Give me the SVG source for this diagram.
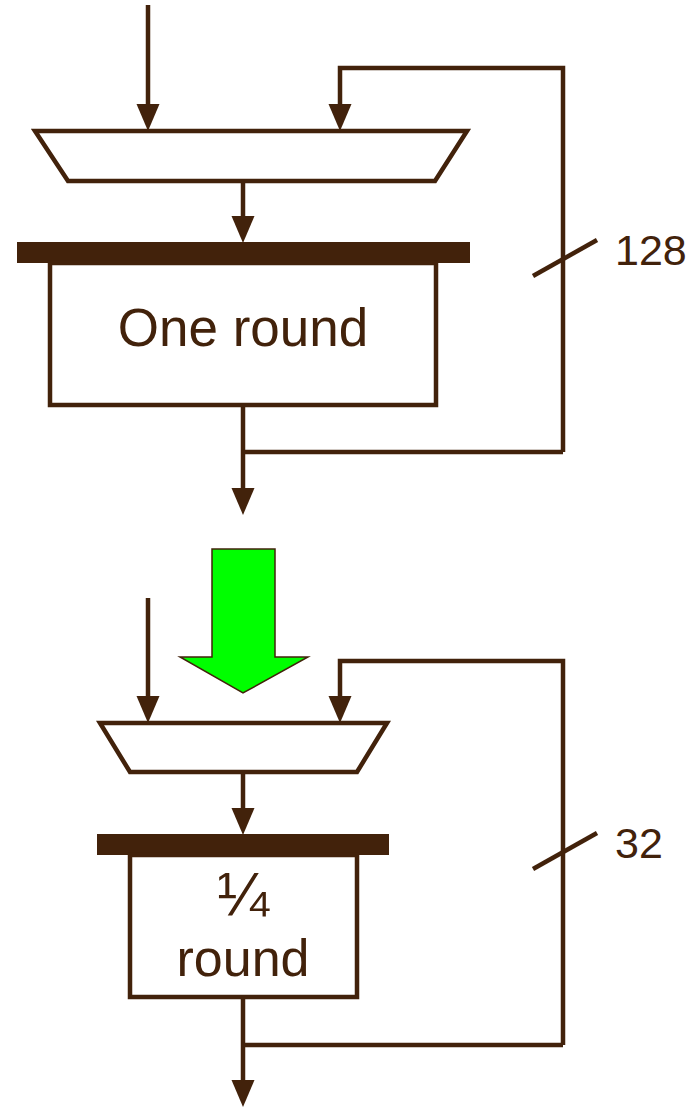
<svg xmlns="http://www.w3.org/2000/svg" width="690" height="1107" viewBox="0 0 690 1107">
<style>
.ln{fill:none;stroke:#42220b;stroke-width:4.5;stroke-linejoin:miter}
.arr{marker-end:url(#ah)}
.box{fill:#fff;stroke:#42220b;stroke-width:4.5}
.bar{fill:#42220b}
.lbl{font-family:"Liberation Sans",Arial,sans-serif;fill:#42220b;text-anchor:middle}
.num{font-family:"Liberation Sans",Arial,sans-serif;fill:#42220b;font-size:43px}
</style>
<defs>
<marker id="ah" viewBox="0 -12 28 24" markerWidth="28" markerHeight="24" refX="7" refY="0" orient="auto" markerUnits="userSpaceOnUse">
<path d="M0,-11.5 L27,0 L0,11.5 Z" fill="#42220b"/>
</marker>
</defs>
<g id="connectors">
<line class="ln arr" x1="148" y1="5" x2="148" y2="111"/>
<polyline class="ln arr" points="563,452 563,68 340,68 340,111"/>
<line class="ln arr" x1="243" y1="181" x2="243" y2="223"/>
<line class="ln arr" x1="243" y1="405" x2="243" y2="495"/>
<line class="ln" x1="243" y1="452" x2="563" y2="452"/>
<line class="ln" x1="533" y1="276" x2="597" y2="240"/>
<line class="ln arr" x1="148" y1="598" x2="148" y2="703"/>
<polyline class="ln arr" points="563,1045 563,661 340,661 340,703"/>
<line class="ln arr" x1="243" y1="772" x2="243" y2="815"/>
<line class="ln arr" x1="243" y1="997" x2="243" y2="1087"/>
<line class="ln" x1="243" y1="1045" x2="563" y2="1045"/>
<line class="ln" x1="533" y1="869" x2="597" y2="833"/>
</g>
<g id="mux1"><polygon class="box" points="35,131 467,131 435,181 68,181"/></g>
<g id="reg1"><rect class="bar" x="17" y="242" width="453" height="21"/></g>
<g id="round1"><rect class="box" x="50" y="263" width="386" height="142"/>
<text class="lbl" x="243" y="346" font-size="53">One round</text></g>
<g id="label128"><text class="num" x="615" y="265">128</text></g>
<g id="bigarrow"><polygon points="212,549 275,549 275,657 308,657 243,693 180,657 212,657" fill="#00ff00" stroke="#42220b" stroke-width="1.5"/></g>
<g id="mux2"><polygon class="box" points="100,723 387,723 357,772 130,772"/></g>
<g id="reg2"><rect class="bar" x="97" y="834" width="292" height="21"/></g>
<g id="round2"><rect class="box" x="130" y="855" width="227" height="142"/>
<text class="lbl" x="243" y="915" font-size="62">¼</text>
<text class="lbl" x="243" y="976" font-size="52">round</text></g>
<g id="label32"><text class="num" x="615" y="858">32</text></g>
</svg>
